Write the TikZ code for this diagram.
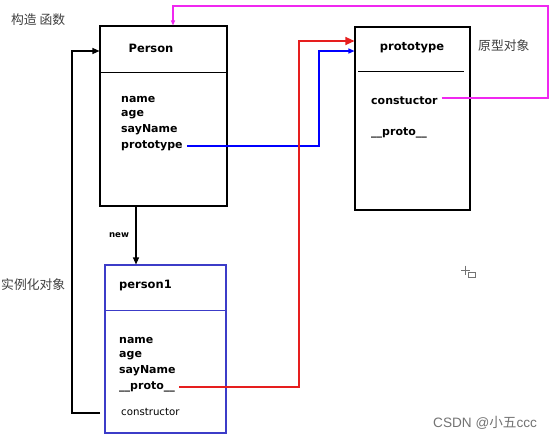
\documentclass[tikz,border=0pt]{standalone}
\usepackage{fontspec}
\setmainfont{DejaVu Sans}
\newfontfamily\cjk{Noto Sans CJK SC}
\newfontfamily\wm{Liberation Sans}
\usetikzlibrary{arrows.meta}
\definecolor{magline}{RGB}{240,40,240}
\definecolor{redline}{RGB}{230,30,30}
\definecolor{boxblue}{RGB}{60,60,200}
\tikzset{
  box/.style={draw=black,line width=1.1pt,minimum width=#1,inner sep=0},
  attr/.style={anchor=west,inner sep=0,font=\fontsize{11}{11}\selectfont\bfseries},
  title/.style={inner sep=0,font=\fontsize{11.5}{11.5}\selectfont\bfseries},
  zh/.style={inner sep=0,font=\fontsize{12.8}{12.8}\selectfont\cjk,text=black!75},
  conn/.style={line width=1.1pt},
  tip/.style={-{Triangle[length=7pt,width=6pt]}}
}
\begin{document}
\begin{tikzpicture}[x=1pt,y=-1pt]
\useasboundingbox (0,0) rectangle (554,440);
\fill[white] (0,0) rectangle (554,440);
% boxes
\node[box=127pt,minimum height=180pt] (P) at (163.5,116) {};
\draw[line width=1pt] (100,72) -- (227,72);
\node[box=115pt,minimum height=183pt] (R) at (412.5,118.5) {};
\draw[line width=1pt] (358,71.5) -- (464,71.5);
\node[box=121pt,minimum height=168pt,draw=boxblue] (C) at (165.5,349) {};
\draw[line width=0.9pt,boxblue] (105,310.5) -- (226,310.5);
% Person texts
\node[title] (Pt) at (151,48) {Person};
\node[attr] (Pn) at (121,99) {name};
\node[attr] (Pa) at (121,115) {age};
\node[attr] (Ps) at (121,130) {sayName};
\node[attr] (Pp) at (121,146) {prototype};
% prototype texts
\node[title] (Rt) at (412,48) {prototype};
\node[attr] (Rc) at (371,101) {constuctor};
\node[attr] (Rp) at (371,133) {\_\_proto\_\_};
% person1 texts
\node[title,anchor=west] (Ct) at (119,285) {person1};
\node[attr] (Cn) at (119,340) {name};
\node[attr] (Ca) at (119,356) {age};
\node[attr] (Cs) at (119,371) {sayName};
\node[attr] (Cp) at (119,387) {\_\_proto\_\_};
\node[anchor=west,inner sep=0,font=\fontsize{10.2}{10.2}\selectfont] (Cc) at (121,412) {constructor};
% labels
\node[zh,anchor=west] (L1) at (11,20) {构造 函数};
\node[zh,anchor=west] (L2) at (478,46) {原型对象};
\node[zh,anchor=west] (L3) at (1,285) {实例化对象};
\node[inner sep=0,font=\fontsize{8.6}{8.6}\selectfont\bfseries] (New) at (119,235) {new};
\node[anchor=west,inner sep=0,font=\fontsize{13.6}{13.6}\selectfont\wm,text=black!55] (W) at (433,423) {CSDN @{\cjk 小五}ccc};
% cursor icon
\draw[black!55,line width=0.8pt] (461,270) -- (470,270) (465.5,265.5) -- (465.5,274.5);
\draw[black!55,line width=0.6pt] (468,272) rectangle (475,277);
% connectors
\coordinate (nb) at (136,206);
\draw[conn,tip] (nb) -- (nb |- C.north);
\coordinate (lp) at (100,413);
\draw[conn,tip] (lp) -- (72,413) -- (72,51) -- (72,51 -| P.west);
\draw[conn,blue,-{Triangle[length=6pt,width=5pt]}] ([xshift=4pt]Pp.east) -| (319,51) -- (319,51 -| R.west);
\draw[conn,redline,-{Triangle[length=9pt,width=8pt]}] ([xshift=4pt]Cp.east) -| (299,41) -- (299,41 -| R.west);
\coordinate (mt) at (173,6);
\draw[conn,magline,-{Triangle[length=5pt,width=4pt]}] ([xshift=4pt,yshift=3pt]Rc.east) -| (548,6) -- (mt) -- (mt |- P.north);
\end{tikzpicture}
\end{document}
